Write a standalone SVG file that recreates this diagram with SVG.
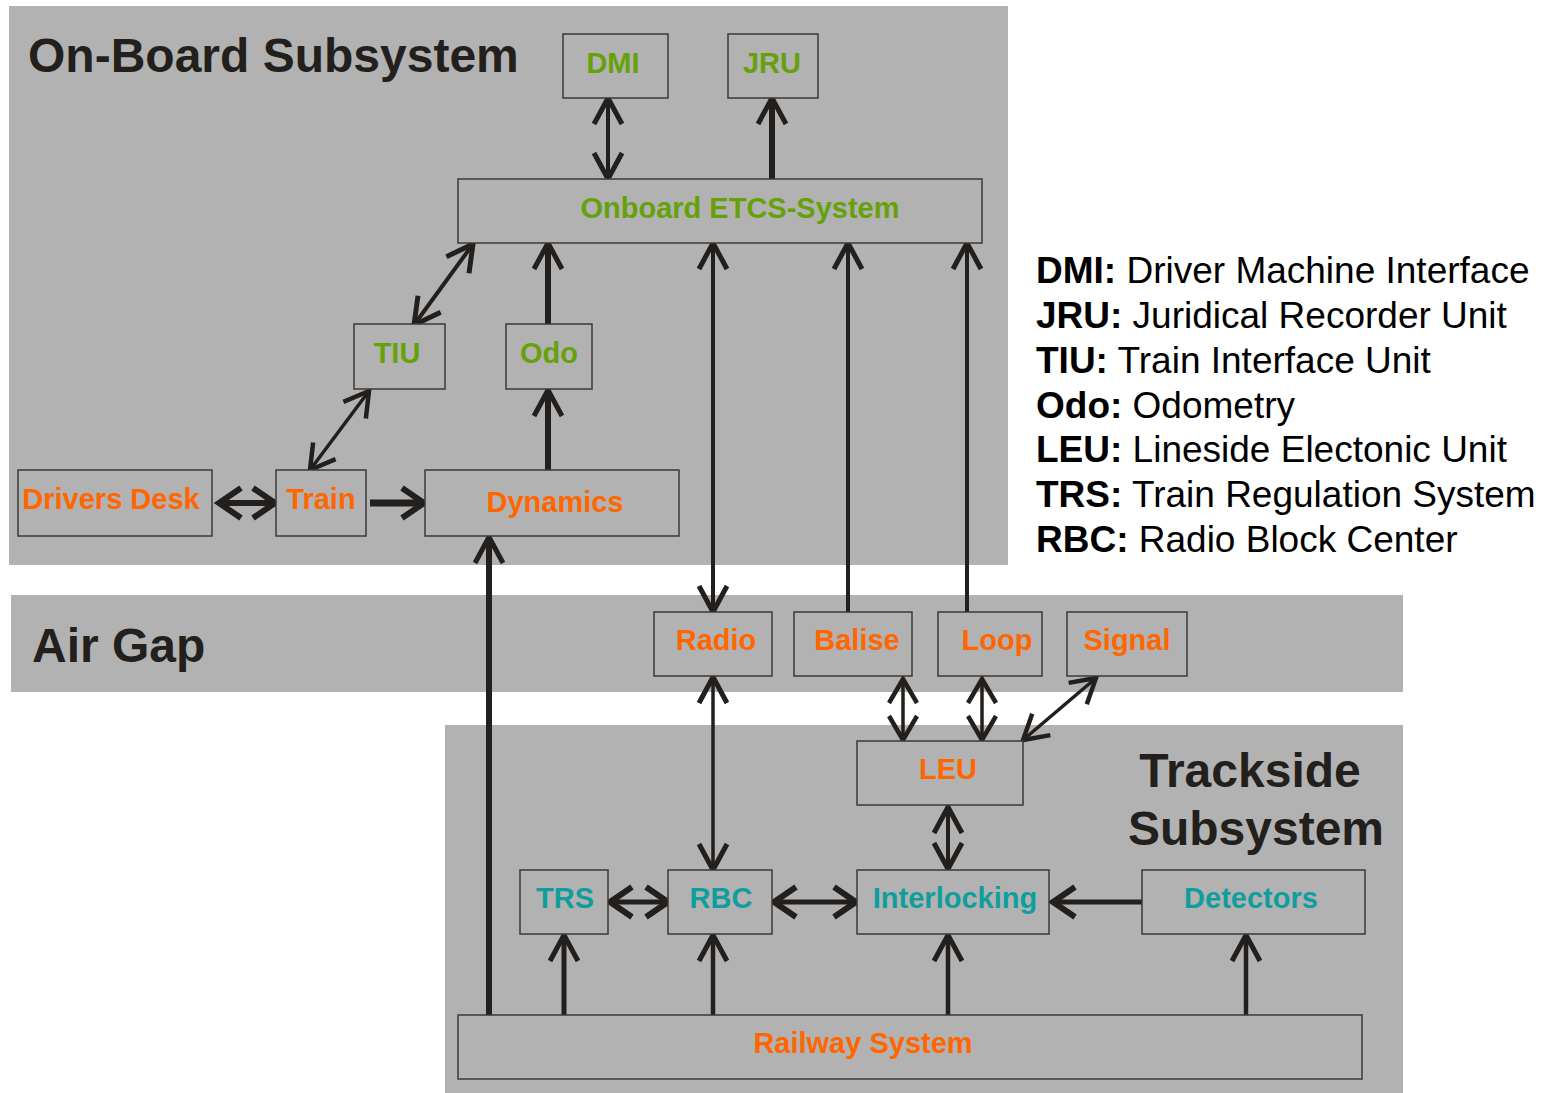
<svg xmlns="http://www.w3.org/2000/svg" width="1556" height="1093" viewBox="0 0 1556 1093">
<defs>
<style>
.panel{fill:#b2b2b2;stroke:none}
.box{fill:#b2b2b2;stroke:#3c3a38;stroke-width:1.5}
.t{font-family:"Liberation Sans",Arial,sans-serif;font-weight:bold;font-size:29px;text-anchor:middle}
.g{fill:#66a10a}
.o{fill:#ff6600}
.c{fill:#0f9e9e}
.title{font-family:"Liberation Sans",Arial,sans-serif;font-weight:bold;font-size:48px;fill:#231f1c}
.leg{font-family:"Liberation Sans",Arial,sans-serif;font-size:37px;fill:#000}
.leg .b{font-weight:bold}
.ln{fill:none;stroke:#231f1c}
</style>
<marker id="m" viewBox="-40 -25 50 50" markerWidth="50" markerHeight="50" refX="0" refY="0" orient="auto-start-reverse" markerUnits="userSpaceOnUse">
<path d="M-26,-14 L0,0 L-26,14" fill="none" stroke="#231f1c" stroke-width="5"/>
</marker>
<marker id="mt" viewBox="-40 -25 50 50" markerWidth="50" markerHeight="50" refX="0" refY="0" orient="auto-start-reverse" markerUnits="userSpaceOnUse">
<path d="M-24,-14 L0,0 L-24,14" fill="none" stroke="#231f1c" stroke-width="4.5"/>
</marker>
<marker id="mh" viewBox="-40 -25 50 50" markerWidth="50" markerHeight="50" refX="0" refY="0" orient="auto-start-reverse" markerUnits="userSpaceOnUse">
<path d="M-22,-15 L0,0 L-22,15" fill="none" stroke="#231f1c" stroke-width="6"/>
</marker>
</defs>

<g id="panels">
<rect class="panel" x="9" y="6" width="999" height="559"/>
<rect class="panel" x="11" y="595" width="1392" height="97"/>
<rect class="panel" x="445" y="725" width="958" height="368"/>
<text class="title" x="28" y="72">On-Board Subsystem</text>
<text class="title" x="32" y="662">Air Gap</text>
<text class="title" x="1250" y="787" text-anchor="middle">Trackside</text>
<text class="title" x="1256" y="845" text-anchor="middle">Subsystem</text>
</g>

<g id="connectors">
<path class="ln" d="M608,98 V179" stroke-width="4" marker-start="url(#m)" marker-end="url(#m)"/>
<path class="ln" d="M772,179 V98" stroke-width="6" marker-end="url(#m)"/>
<path class="ln" d="M473,244 L414,325" stroke-width="4" marker-start="url(#m)" marker-end="url(#m)"/>
<path class="ln" d="M548,324 V243" stroke-width="6" marker-end="url(#m)"/>
<path class="ln" d="M369,391 L310,470" stroke-width="3.5" marker-start="url(#mt)" marker-end="url(#mt)"/>
<path class="ln" d="M548,470 V390" stroke-width="6" marker-end="url(#m)"/>
<path class="ln" d="M219,503 H275" stroke-width="6" marker-start="url(#mh)" marker-end="url(#mh)"/>
<path class="ln" d="M370,503 H424" stroke-width="7" marker-end="url(#mh)"/>
<path class="ln" d="M713,612 V243" stroke-width="4" marker-start="url(#m)" marker-end="url(#m)"/>
<path class="ln" d="M848,612 V243" stroke-width="4" marker-end="url(#m)"/>
<path class="ln" d="M967,612 V243" stroke-width="4" marker-end="url(#m)"/>
<path class="ln" d="M713,677 V870" stroke-width="3.5" marker-start="url(#m)" marker-end="url(#m)"/>
<path class="ln" d="M903,679 V740" stroke-width="3.5" marker-start="url(#mt)" marker-end="url(#mt)"/>
<path class="ln" d="M982,679 V740" stroke-width="3.5" marker-start="url(#mt)" marker-end="url(#mt)"/>
<path class="ln" d="M1096,678 L1023,740" stroke-width="3.5" marker-start="url(#mt)" marker-end="url(#mt)"/>
<path class="ln" d="M948,807 V869" stroke-width="4" marker-start="url(#m)" marker-end="url(#m)"/>
<path class="ln" d="M610,902 H668" stroke-width="5" marker-start="url(#mh)" marker-end="url(#mh)"/>
<path class="ln" d="M774,902 H856" stroke-width="5" marker-start="url(#mh)" marker-end="url(#mh)"/>
<path class="ln" d="M1142,902 H1053" stroke-width="5" stroke="#000" marker-end="url(#mh)"/>
<path class="ln" d="M564,1015 V935" stroke-width="5" marker-end="url(#m)"/>
<path class="ln" d="M713,1015 V935" stroke-width="4.5" marker-end="url(#m)"/>
<path class="ln" d="M948,1015 V935" stroke-width="4.5" marker-end="url(#m)"/>
<path class="ln" d="M1246,1015 V935" stroke-width="4.5" marker-end="url(#m)"/>
<path class="ln" d="M489,1015 V537" stroke-width="6" stroke="#000" marker-end="url(#m)"/>
</g>

<g id="DMI"><rect class="box" x="563" y="34" width="105" height="64"/><text class="t g" x="613" y="73">DMI</text></g>
<g id="JRU"><rect class="box" x="728" y="34" width="90" height="64"/><text class="t g" x="772" y="73">JRU</text></g>
<g id="ETCS"><rect class="box" x="458" y="179" width="524" height="64"/><text class="t g" x="740" y="218">Onboard ETCS-System</text></g>
<g id="TIU"><rect class="box" x="354" y="324" width="91" height="65"/><text class="t g" x="397" y="363">TIU</text></g>
<g id="Odo"><rect class="box" x="506" y="324" width="86" height="65"/><text class="t g" x="549" y="363">Odo</text></g>
<g id="DriversDesk"><rect class="box" x="18" y="470" width="194" height="66"/><text class="t o" x="111" y="509">Drivers Desk</text></g>
<g id="Train"><rect class="box" x="276" y="470" width="90" height="66"/><text class="t o" x="321" y="509">Train</text></g>
<g id="Dynamics"><rect class="box" x="425" y="470" width="254" height="66"/><text class="t o" x="555" y="512">Dynamics</text></g>
<g id="Radio"><rect class="box" x="654" y="612" width="118" height="64"/><text class="t o" x="716" y="650">Radio</text></g>
<g id="Balise"><rect class="box" x="794" y="612" width="118" height="64"/><text class="t o" x="857" y="650">Balise</text></g>
<g id="Loop"><rect class="box" x="938" y="612" width="104" height="64"/><text class="t o" x="997" y="650">Loop</text></g>
<g id="Signal"><rect class="box" x="1067" y="612" width="120" height="64"/><text class="t o" x="1127" y="650">Signal</text></g>
<g id="LEU"><rect class="box" x="857" y="741" width="166" height="64"/><text class="t o" x="948" y="779">LEU</text></g>
<g id="TRS"><rect class="box" x="520" y="870" width="88" height="64"/><text class="t c" x="565" y="908">TRS</text></g>
<g id="RBC"><rect class="box" x="668" y="870" width="104" height="64"/><text class="t c" x="721" y="908">RBC</text></g>
<g id="Interlocking"><rect class="box" x="857" y="870" width="192" height="64"/><text class="t c" x="955" y="908">Interlocking</text></g>
<g id="Detectors"><rect class="box" x="1142" y="870" width="223" height="64"/><text class="t c" x="1251" y="908">Detectors</text></g>
<g id="RailwaySystem"><rect class="box" x="458" y="1015" width="904" height="64"/><text class="t o" x="863" y="1053">Railway System</text></g>

<g id="legend" class="leg">
<text x="1036" y="283"><tspan class="b">DMI:</tspan> Driver Machine Interface</text>
<text x="1036" y="328"><tspan class="b">JRU:</tspan> Juridical Recorder Unit</text>
<text x="1036" y="373"><tspan class="b">TIU:</tspan> Train Interface Unit</text>
<text x="1036" y="418"><tspan class="b">Odo:</tspan> Odometry</text>
<text x="1036" y="462"><tspan class="b">LEU:</tspan> Lineside Electonic Unit</text>
<text x="1036" y="507"><tspan class="b">TRS:</tspan> Train Regulation System</text>
<text x="1036" y="552"><tspan class="b">RBC:</tspan> Radio Block Center</text>
</g>
</svg>
